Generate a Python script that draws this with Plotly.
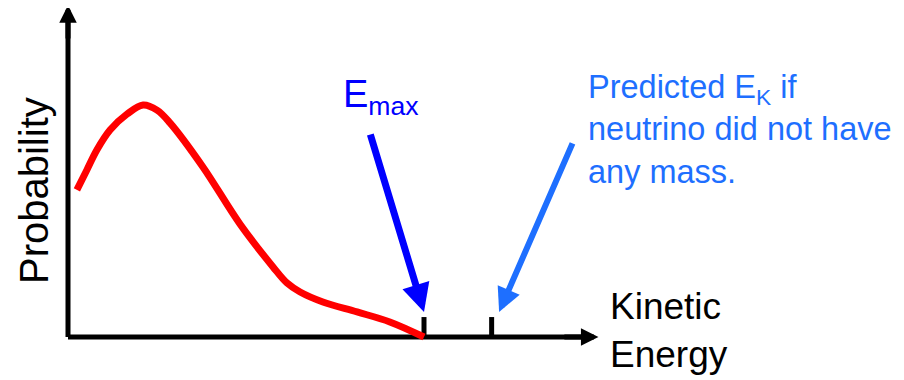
import plotly.graph_objects as go

# ---- data ----
energy = [0.025, 0.053, 0.081, 0.118, 0.166, 0.211, 0.250, 0.287, 0.379,
          0.483, 0.576, 0.615, 0.652, 0.716, 0.812, 0.904, 1.000]
probability = [0.634, 0.720, 0.806, 0.892, 0.961, 1.000, 0.978, 0.922, 0.733,
               0.487, 0.302, 0.233, 0.194, 0.151, 0.108, 0.065, 0.000]
e_max = 1.0          # observed endpoint
e_massless = 1.19    # predicted endpoint for a massless neutrino
x_label = "Kinetic<br>Energy"
y_label = "Probability"
emax_label = "E<sub>max</sub>"
pred_label = "Predicted E<sub>K</sub> if<br>neutrino did not have<br>any mass."

W, H = 904, 380
OFF = 8  # page body margin
FONT = "Liberation Sans, Arial, sans-serif"
LIGHT_BLUE = "#1e6fff"

x_end, y_end = 1.49, 1.43
tick_h = 0.086

fig = go.Figure()

# axis shafts (below the curve)
fig.add_shape(type="line", x0=0, y0=0, x1=x_end - 0.03, y1=0, xref="x", yref="y",
              line=dict(color="black", width=5), layer="below")
fig.add_shape(type="line", x0=0, y0=0, x1=0, y1=y_end - 0.05, xref="x", yref="y",
              line=dict(color="black", width=5), layer="below")
# ticks
for e in (e_max, e_massless):
    fig.add_shape(type="line", x0=e, y0=0, x1=e, y1=tick_h, xref="x", yref="y",
                  line=dict(color="black", width=5), layer="below")

# curve
fig.add_trace(go.Scatter(x=energy, y=probability, mode="lines",
                         line=dict(color="#ff0000", width=7, shape="spline", smoothing=1.0),
                         hoverinfo="skip"))

# axis arrowheads
fig.add_annotation(x=x_end, y=0, ax=x_end - 0.1, ay=0, xref="x", yref="y", axref="x", ayref="y",
                   text="", showarrow=True, arrowhead=2, arrowwidth=5, arrowsize=0.7,
                   arrowcolor="black")
fig.add_annotation(x=0, y=y_end, ax=0, ay=y_end - 0.15, xref="x", yref="y", axref="x", ayref="y",
                   text="", showarrow=True, arrowhead=2, arrowwidth=5, arrowsize=0.7,
                   arrowcolor="black")

# pointer arrows
fig.add_annotation(x=e_max, y=0.108, ax=0.848, ay=0.879, xref="x", yref="y", axref="x", ayref="y",
                   text="", showarrow=True, arrowhead=2, arrowwidth=7, arrowsize=0.8,
                   arrowcolor="#0000ff")
fig.add_annotation(x=1.211, y=0.108, ax=1.419, ay=0.841, xref="x", yref="y", axref="x", ayref="y",
                   text="", showarrow=True, arrowhead=2, arrowwidth=6, arrowsize=0.8,
                   arrowcolor=LIGHT_BLUE)

# text labels (paper coordinates, given in page pixels)
def px(x): return (x - OFF) / W
def py(y): return 1 - (y - OFF) / H

fig.add_annotation(x=px(341), y=py(97), xref="paper", yref="paper", xanchor="left", yanchor="middle",
                   text=emax_label, showarrow=False, font=dict(family=FONT, size=38, color="#0000ff"))
fig.add_annotation(x=px(586), y=py(67), xref="paper", yref="paper", xanchor="left", yanchor="top",
                   align="left", text=pred_label, showarrow=False,
                   font=dict(family=FONT, size=32.5, color=LIGHT_BLUE))
fig.add_annotation(x=px(608), y=py(330), xref="paper", yref="paper", xanchor="left", yanchor="middle",
                   align="left", text=x_label, showarrow=False,
                   font=dict(family=FONT, size=37, color="black"))
fig.add_annotation(x=px(34), y=py(191), xref="paper", yref="paper", xanchor="center", yanchor="middle",
                   text=y_label, textangle=-90, showarrow=False,
                   font=dict(family=FONT, size=40, color="black"))

# axis ranges chosen so that the origin sits at page pixel (68, 337)
fig.update_layout(width=W, height=H, margin=dict(l=0, r=0, t=0, b=0),
                  paper_bgcolor="white", plot_bgcolor="white", showlegend=False,
                  xaxis=dict(range=[(OFF - 68) / 356, (W + OFF - 68) / 356], visible=False, fixedrange=True),
                  yaxis=dict(range=[(337 - H - OFF) / 232, (337 - OFF) / 232], visible=False, fixedrange=True))

fig.write_html("out.html", config={"displayModeBar": False})
